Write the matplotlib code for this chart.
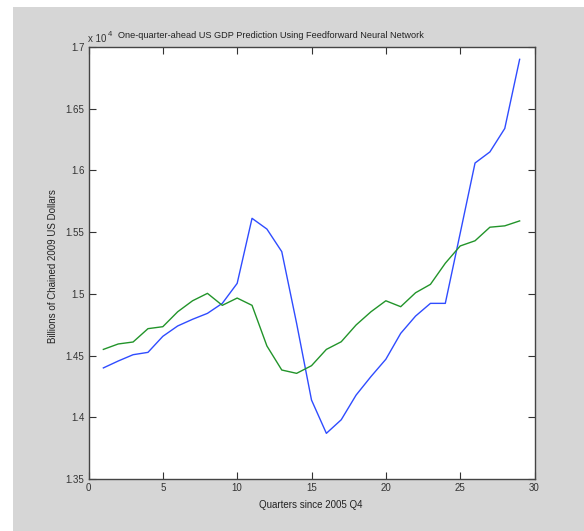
import matplotlib
matplotlib.use('Agg')
import matplotlib.pyplot as plt
from matplotlib.patches import Rectangle
from matplotlib.ticker import FuncFormatter

plt.rcParams['font.family'] = ['Liberation Sans', 'DejaVu Sans']

quarters = list(range(1, 30))
# actual GDP (blue) and network prediction (green), billions of chained 2009 dollars
actual = [14400, 14456, 14507, 14526, 14656, 14740, 14794, 14842, 14923, 15085,
          15612, 15525, 15342, 14760, 14140, 13870, 13980, 14180, 14330, 14470,
          14680, 14820, 14923, 14923, 15490, 16060, 16150, 16340, 16900]
predicted = [14550, 14594, 14610, 14718, 14734, 14855, 14944, 15004, 14907, 14966,
             14907, 14578, 14383, 14356, 14418, 14550, 14612, 14748, 14855, 14944,
             14896, 15009, 15077, 15248, 15388, 15430, 15540, 15551, 15591]

xticks = [0, 5, 10, 15, 20, 25, 30]
yticks = [13500, 14000, 14500, 15000, 15500, 16000, 16500, 17000]

fig = plt.figure(figsize=(5.84, 5.31), dpi=100)
fig.patch.set_facecolor('white')
fig.patches.append(Rectangle((13 / 584, 0), 1, 1 - 7 / 531, transform=fig.transFigure,
                             facecolor='#d6d6d6', edgecolor='none', zorder=-10))

ax = fig.add_axes([88.5 / 584, 1 - 479 / 531, 446 / 584, 432 / 531])
ax.plot(quarters, actual, color='#2f4cff', lw=1.0)
ax.plot(quarters, predicted, color='#22942a', lw=1.0)

ax.set_xlim(0, 30)
ax.set_ylim(13500, 17000)
ax.set_xticks(xticks)
ax.set_yticks(yticks)
ax.yaxis.set_major_formatter(FuncFormatter(lambda v, p: '%g' % (v / 1e4)))
ax.tick_params(direction='in', length=5, width=0.8, colors='#333333', labelsize=7,
               top=True, right=True, pad=3)
for s in ax.spines.values():
    s.set_color('#444444')
    s.set_linewidth(1.0)

fig.text(271 / 584, 1 - 36 / 531,
         'One-quarter-ahead US GDP Prediction Using Feedforward Neural Network',
         ha='center', va='center', fontsize=6.6, color='#222222')
fig.text(88 / 584, 1 - 39 / 531, 'x 10', ha='left', va='center', fontsize=7,
         color='#333333')
fig.text(108 / 584, 1 - 34 / 531, '4', ha='left', va='center', fontsize=5.5,
         color='#333333')
fig.text(53 / 584, 1 - 266 / 531, 'Billions of Chained 2009 US Dollars', rotation=90,
         ha='center', va='center', fontsize=7, color='#222222')
fig.text(311 / 584, 1 - 505 / 531, 'Quarters since 2005 Q4', ha='center', va='center',
         fontsize=7, color='#222222')

fig.savefig('out.png', dpi=100)
